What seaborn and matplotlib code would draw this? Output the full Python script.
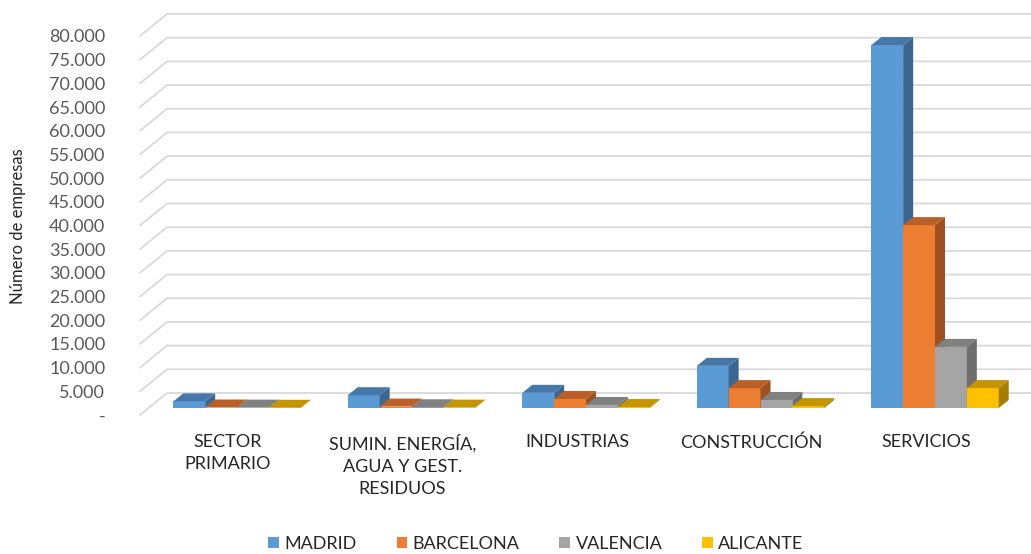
import numpy as np
import pandas as pd
import matplotlib
matplotlib.use("Agg")
import matplotlib.pyplot as plt
from matplotlib.patches import Polygon
from matplotlib.transforms import ScaledTranslation
import seaborn as sns

# data (número de empresas)
sectores = ["SECTOR\nPRIMARIO", "SUMIN. ENERGÍA,\nAGUA Y GEST.\nRESIDUOS",
            "INDUSTRIAS", "CONSTRUCCIÓN", "SERVICIOS"]
ciudades = ["MADRID", "BARCELONA", "VALENCIA", "ALICANTE"]
madrid = [1400, 2700, 3200, 8900, 76600]
barcelona = [100, 300, 1900, 4200, 38600]
valencia = [80, 150, 650, 1700, 12900]
alicante = [50, 80, 200, 400, 4200]
yticks = list(range(0, 80001, 5000))

front_cols = ["#5B9BD5", "#ED7D31", "#A5A5A5", "#FFC000"]
top_cols = ["#4677A8", "#B95F27", "#808080", "#C49500"]
side_cols = ["#3A6690", "#9E501F", "#6E6E6E", "#A67D00"]

df = pd.DataFrame({
    "sector": sectores * 4,
    "ciudad": np.repeat(ciudades, len(sectores)),
    "empresas": madrid + barcelona + valencia + alicante,
})

sns.set_theme(style="white")
plt.rcParams['font.family'] = ['Lato', 'DejaVu Sans']

W, H = 1031, 554
fig = plt.figure(figsize=(W / 100, H / 100), dpi=100)
# front face plane of the bars: y=0 at px 408, 80.000 at px 29
ax = fig.add_axes([140 / W, (H - 408) / H, (W - 140) / W, (408 - 29) / H])

sns.barplot(data=df, x="sector", y="empresas", hue="ciudad", palette=front_cols,
            width=0.73, errorbar=None, linewidth=0, saturation=1, ax=ax)

cat_px = 174.5   # pixels per category
x0_px = 237      # centre of first group
ax.set_xlim((140 - x0_px) / cat_px, (W - x0_px) / cat_px)
ax.set_ylim(0, 80000)
for s in ax.spines.values():
    s.set_visible(False)
ax.set_xlabel("")
ax.set_ylabel("")

# depth offsets in pixels
DX, DY = 10, 8            # bar depth
FRONT = (-9, -7)          # axis front plane relative to bar plane
BACK = (18, 15)           # back wall relative to bar plane

inv = ax.transData.inverted()
for v in yticks:
    _, py = ax.transData.transform((0, v))
    pts = [(140, py + FRONT[1]), (167, py + BACK[1]), (W + 5, py + BACK[1])]
    d = inv.transform(pts)
    ax.plot(d[:, 0], d[:, 1], color="#D9D9D9", lw=1.3, zorder=1, clip_on=False)

# 3D faces of the bars
for h, cont in enumerate(ax.containers):
    for rect in cont:
        bx, bw, bh = rect.get_x(), rect.get_width(), rect.get_height()
        (l, b), (r, t) = ax.transData.transform([(bx, 0), (bx + bw, bh)])
        top = [(l, t), (r, t), (r + DX, t + DY), (l + DX, t + DY)]
        side = [(r, b), (r + DX, b + DY), (r + DX, t + DY), (r, t)]
        rect.set_zorder(3 + 2 * h)
        ax.add_patch(Polygon(inv.transform(side), closed=True, fc=side_cols[h],
                             lw=0, zorder=3.5 + 2 * h, clip_on=False))
        ax.add_patch(Polygon(inv.transform(top), closed=True, fc=top_cols[h],
                             lw=0, zorder=3.5 + 2 * h, clip_on=False))

# ticks
ax.set_yticks(yticks)
ax.set_yticklabels(["-"] + [f"{v:,}".replace(",", ".") for v in yticks[1:]])
ax.tick_params(axis="y", length=0, pad=25, labelsize=13, labelcolor="#595959")
ax.tick_params(axis="x", length=0, pad=14, labelsize=13, labelcolor="#262626")
off_y = ScaledTranslation(0, FRONT[1] / 100, fig.dpi_scale_trans)
off_x = ScaledTranslation(FRONT[0] / 100, FRONT[1] / 100, fig.dpi_scale_trans)
for lab in ax.get_yticklabels():
    lab.set_transform(lab.get_transform() + off_y)
for lab in ax.get_xticklabels():
    lab.set_transform(lab.get_transform() + off_x)
    lab.set_linespacing(1.45)

fig.text(18 / W, 1 - 226 / H, "Número de empresas", rotation=90, ha="center",
         va="center", fontsize=12, color="#262626")

sns.move_legend(ax, "center", bbox_to_anchor=(536 / W, 1 - 544 / H),
                bbox_transform=fig.transFigure, ncol=4, frameon=False, title=None,
                fontsize=13, handlelength=0.6, handleheight=0.6,
                handletextpad=0.3, columnspacing=2.2)
for t in ax.get_legend().get_texts():
    t.set_color("#262626")

fig.savefig("out.png", dpi=100)
